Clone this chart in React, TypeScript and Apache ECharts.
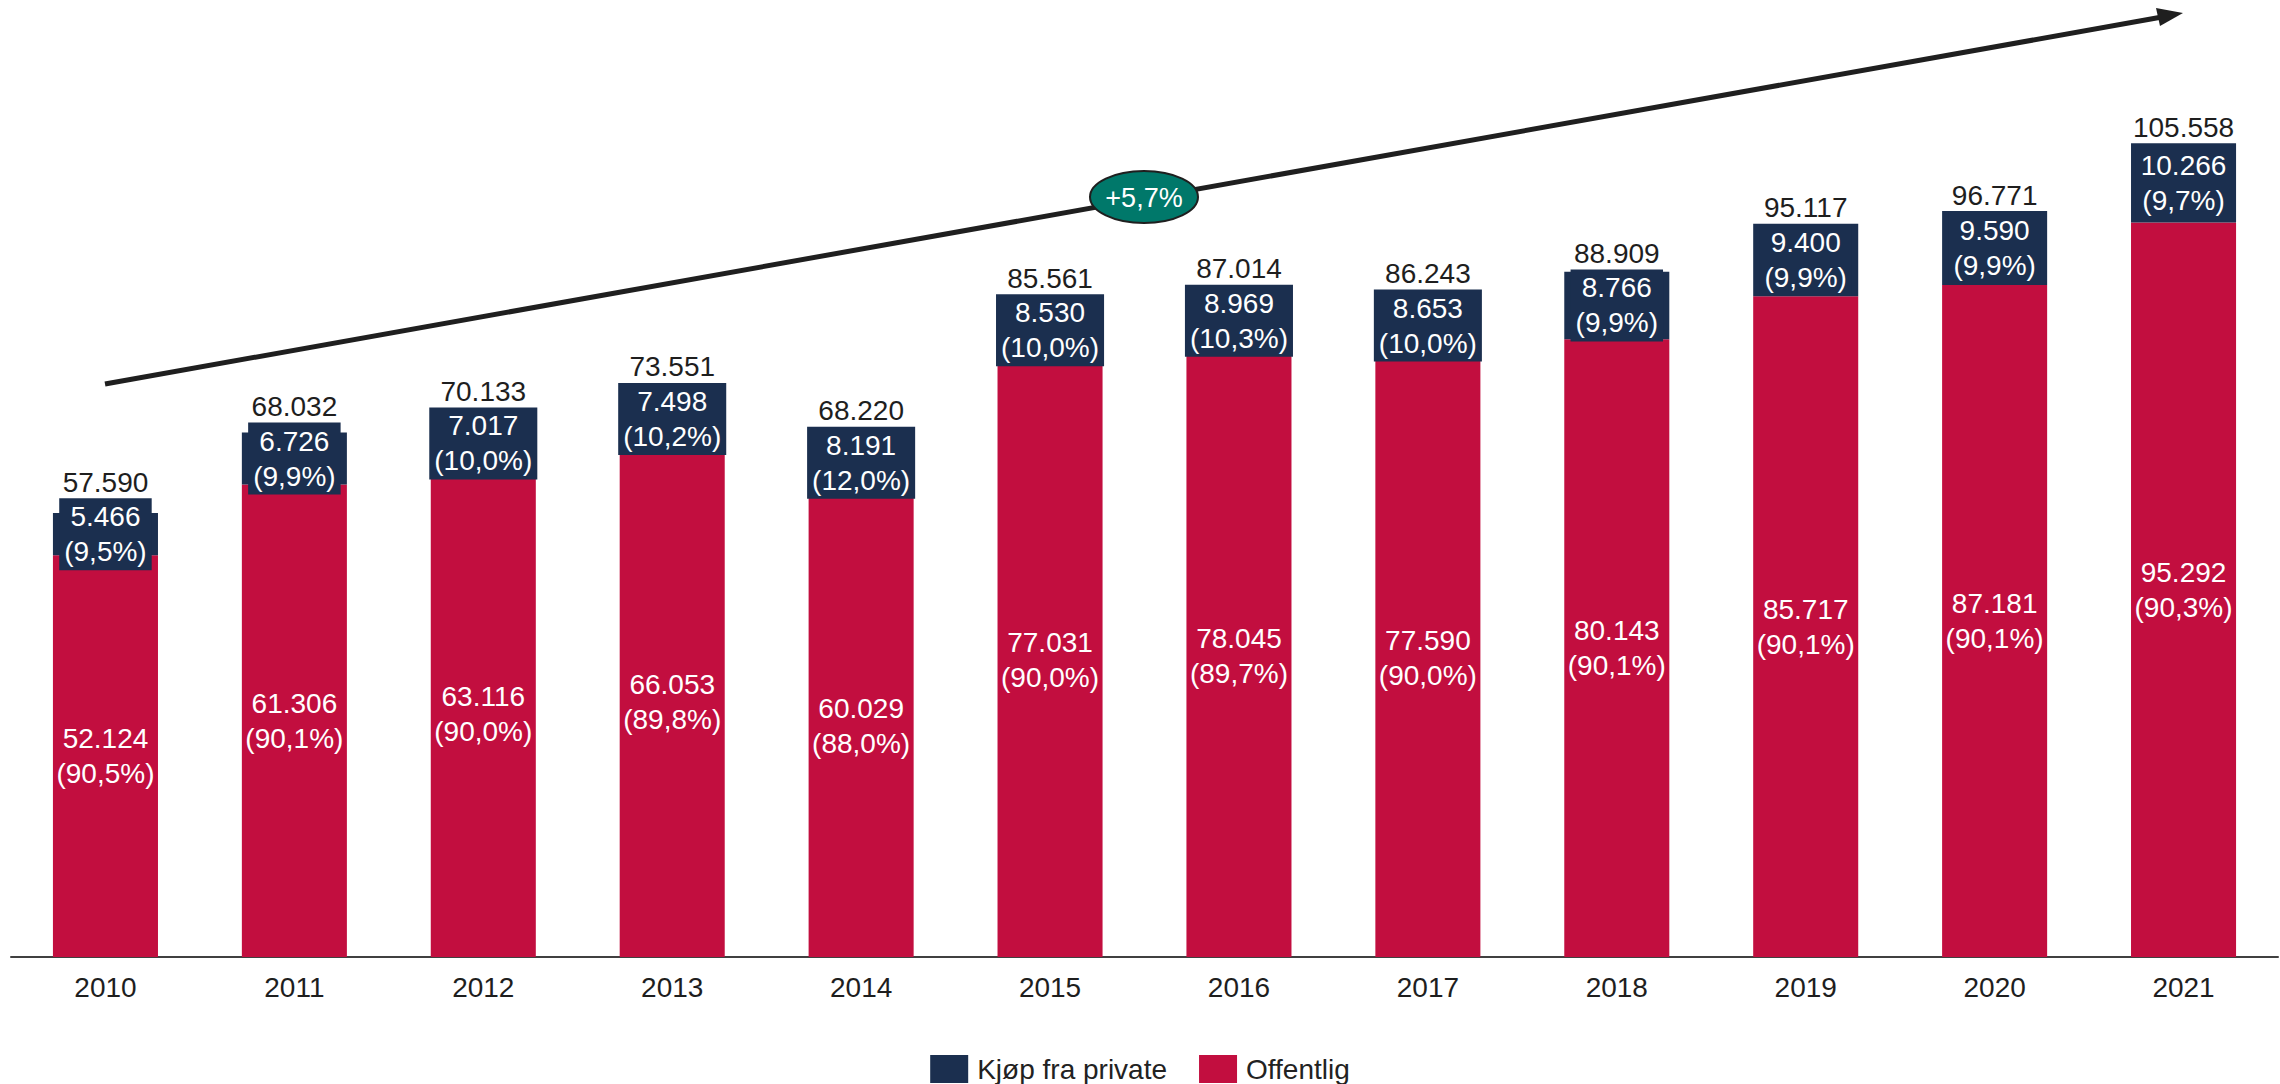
import React, { useEffect, useRef } from "react";
import * as echarts from "echarts";

const years = ["2010", "2011", "2012", "2013", "2014", "2015", "2016", "2017", "2018", "2019", "2020", "2021"];
const publicValues = [52124, 61306, 63116, 66053, 60029, 77031, 78045, 77590, 80143, 85717, 87181, 95292];
const privateValues = [5466, 6726, 7017, 7498, 8191, 8530, 8969, 8653, 8766, 9400, 9590, 10266];
const totals = [57590, 68032, 70133, 73551, 68220, 85561, 87014, 86243, 88909, 95117, 96771, 105558];
const publicPct = [90.5, 90.1, 90.0, 89.8, 88.0, 90.0, 89.7, 90.0, 90.1, 90.1, 90.1, 90.3];
const privatePct = [9.5, 9.9, 10.0, 10.2, 12.0, 10.0, 10.3, 10.0, 9.9, 9.9, 9.9, 9.7];
const growthLabel = "+5,7%";
const seriesNames = ["Kjøp fra private", "Offentlig"];

const NAVY = "#1b2f4f";
const RED = "#c20e3f";
const FONT = "'Liberation Sans', Arial, sans-serif";

const fmtNum = (v: number) => String(v).replace(/\B(?=(\d{3})+(?!\d))/g, ".");
const fmtPct = (v: number) => "(" + v.toFixed(1).replace(".", ",") + "%)";

export default function App() {
  const ref = useRef<HTMLDivElement>(null);
  useEffect(() => {
    document.body.style.margin = "0";
    if (!ref.current) return;
    const chart = echarts.init(ref.current, null, { renderer: "svg" });
    const LINE_H = 35;
    const option: any = {
      animation: false,
      backgroundColor: "#ffffff",
      textStyle: { fontFamily: FONT },
      grid: { left: 11, right: 2, top: 32, bottom: 127, containLabel: false },
      legend: {
        data: seriesNames,
        left: "center",
        top: 1050,
        itemWidth: 38,
        itemHeight: 28,
        itemGap: 32,
        icon: "rect",
        textStyle: { fontSize: 28, color: "#222222", fontFamily: FONT, padding: [0, 0, 0, 4] },
      },
      xAxis: {
        type: "category",
        data: years,
        axisLine: { lineStyle: { color: "#404040", width: 2 } },
        axisTick: { show: false },
        axisLabel: { fontSize: 28, color: "#1e1e1e", margin: 16, fontFamily: FONT },
      },
      yAxis: {
        type: "value",
        min: 0,
        max: 120000,
        show: false,
        splitLine: { show: false },
      },
      series: [
        {
          name: "Offentlig",
          type: "bar",
          stack: "total",
          barWidth: "55.6%",
          data: publicValues,
          itemStyle: { color: RED },
          label: {
            show: true,
            position: "inside",
            color: "#ffffff",
            fontSize: 28,
            lineHeight: LINE_H,
            fontFamily: FONT,
            formatter: (p: any) => fmtNum(publicValues[p.dataIndex]) + "\n" + fmtPct(publicPct[p.dataIndex]),
          },
        },
        {
          name: "Kjøp fra private",
          type: "bar",
          stack: "total",
          barWidth: "55.6%",
          data: privateValues,
          itemStyle: { color: NAVY },
          label: {
            show: true,
            position: "inside",
            color: "#ffffff",
            fontSize: 28,
            lineHeight: LINE_H,
            fontFamily: FONT,
            backgroundColor: NAVY,
            padding: [1, 5, 1, 5],
            formatter: (p: any) => fmtNum(privateValues[p.dataIndex]) + "\n" + fmtPct(privatePct[p.dataIndex]),
          },
        },
        {
          name: "totals",
          type: "custom",
          z: 10,
          data: years.map((_, i) => [i, totals[i], privateValues[i]]),
          renderItem: (params: any, api: any) => {
            const idx = api.value(0);
            const tot = api.value(1);
            const priv = api.value(2);
            const top = api.coord([idx, tot]);
            const bot = api.coord([idx, tot - priv])[1];
            const center = (top[1] + bot) / 2;
            const boxTop = center - LINE_H - 1;
            const y = Math.min(top[1], boxTop) - 2;
            return {
              type: "text",
              x: top[0],
              y,
              style: {
                text: fmtNum(tot),
                align: "center",
                verticalAlign: "bottom",
                fill: "#1e1e1e",
                fontSize: 28,
                fontFamily: FONT,
              },
            };
          },
        },
      ],
      graphic: [
        {
          type: "line",
          shape: { x1: 105, y1: 384, x2: 2162, y2: 17 },
          style: { stroke: "#1f1f1f", lineWidth: 5 },
          z: 20,
        },
        {
          type: "polygon",
          shape: { points: [[2183, 13], [2160, 26], [2156, 8]] },
          style: { fill: "#1f1f1f" },
          z: 20,
        },
        {
          type: "ellipse",
          shape: { cx: 1144, cy: 197, rx: 54, ry: 26 },
          style: { fill: "#00786a", stroke: "#1f1f1f", lineWidth: 2 },
          z: 21,
        },
        {
          type: "text",
          x: 1144,
          y: 198,
          style: {
            text: growthLabel,
            align: "center",
            verticalAlign: "middle",
            fill: "#ffffff",
            fontSize: 27,
            fontFamily: FONT,
          },
          z: 22,
        },
      ],
    };
    chart.setOption(option);
    return () => chart.dispose();
  }, []);
  return <div ref={ref} style={{ width: 2280, height: 1084 }} />;
}
